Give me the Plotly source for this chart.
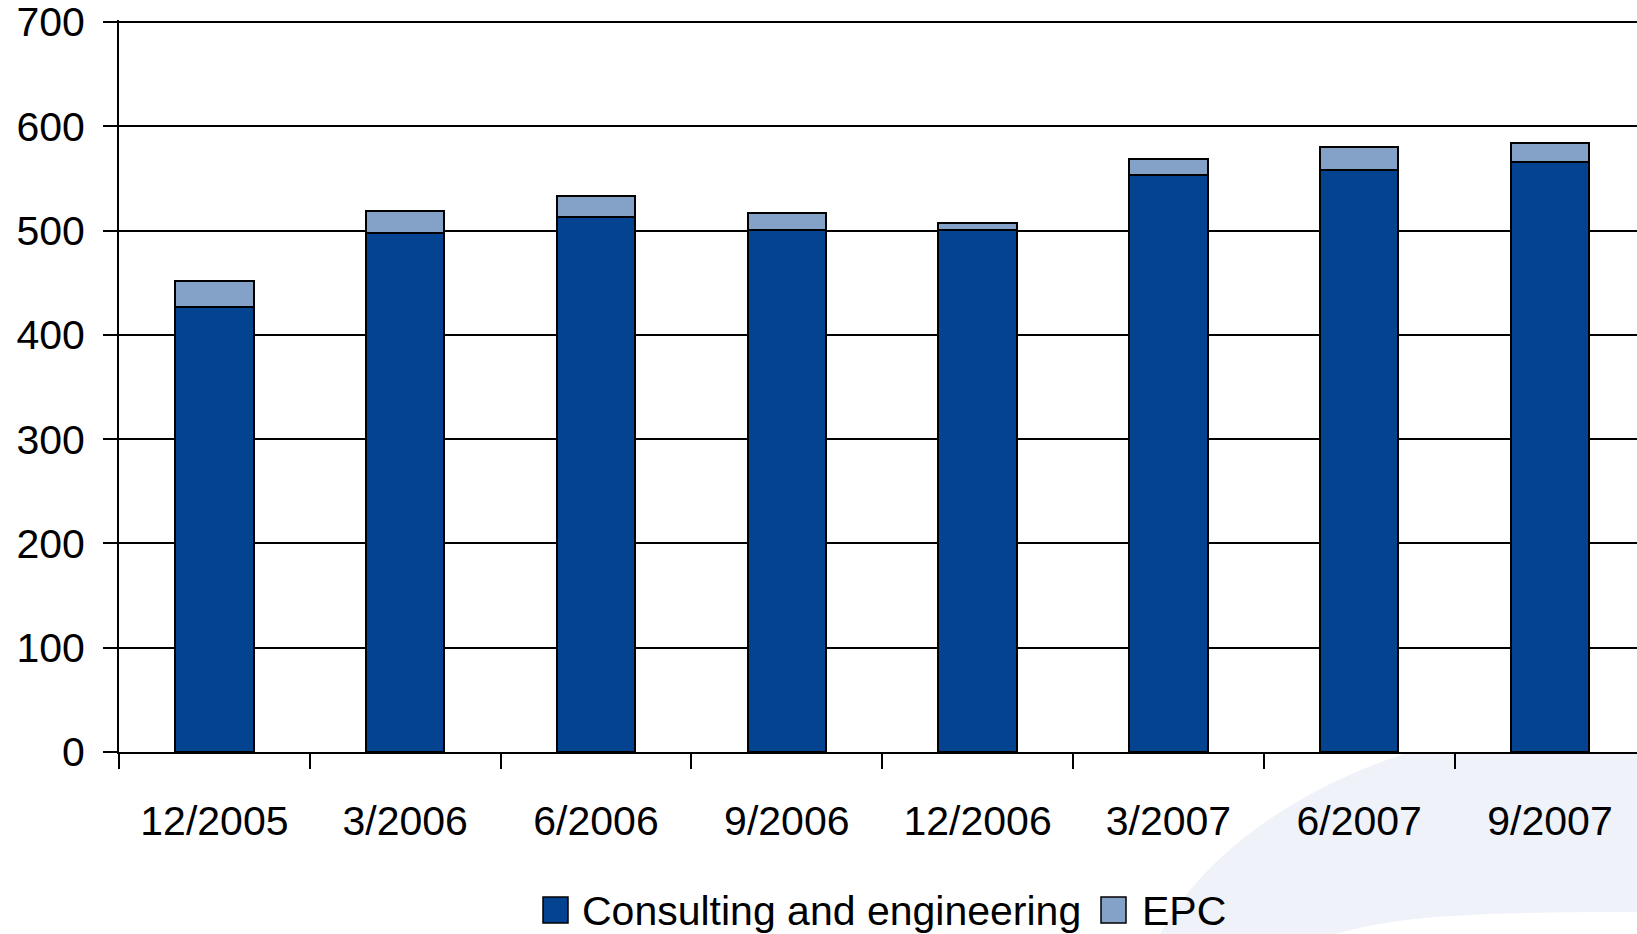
import plotly.graph_objects as go

# ---- data ----
categories = ["12/2005", "3/2006", "6/2006", "9/2006", "12/2006", "3/2007", "6/2007", "9/2007"]
consulting = [427, 498, 513, 501, 501, 553, 558, 566]
epc = [25, 21, 20, 16, 6, 16, 22, 18]
series_names = ["Consulting and engineering", "EPC"]
y_ticks = [0, 100, 200, 300, 400, 500, 600, 700]

# ---- style ----
DARK = "#03438f"
LIGHT = "#84a1c7"
SWOOSH = "#f0f2fa"
FONT = "Liberation Sans, Arial, sans-serif"

W, H = 1637, 934
L, R, T, B = 119, 0, 20, 182
PW, PH = W - L - R, H - T - B

def px(x):
    return (x - L) / PW

def py(y):
    return (H - B - y) / PH

fig = go.Figure()
fig.add_trace(go.Bar(x=categories, y=consulting, name=series_names[0],
                     marker=dict(color=DARK, line=dict(color="black", width=2)),
                     width=0.41, showlegend=False))
fig.add_trace(go.Bar(x=categories, y=epc, name=series_names[1],
                     marker=dict(color=LIGHT, line=dict(color="black", width=2)),
                     width=0.41, showlegend=False))

# background swoosh (below the x axis only)
swoosh = (f"M {px(1160)} {py(934)} "
          f"C {px(1200)} {py(860)}, {px(1290)} {py(790)}, {px(1410)} {py(752)} "
          f"L {px(1637)} {py(752)} L {px(1637)} {py(934)} Z")
dome = (f"M {px(1335)} {py(934)} "
        f"C {px(1400)} {py(915)}, {px(1480)} {py(912)}, {px(1637)} {py(912)} "
        f"L {px(1637)} {py(934)} Z")
shapes = [
    dict(type="path", xref="paper", yref="paper", path=swoosh,
         fillcolor=SWOOSH, line=dict(width=0), layer="below"),
    dict(type="path", xref="paper", yref="paper", path=dome,
         fillcolor="white", line=dict(width=0), layer="below"),
]

# manual legend
leg_y = 910
legend_items = [(543, 580, DARK, series_names[0]), (1101, 1140, LIGHT, series_names[1])]
annotations = []
for sx, tx, col, name in legend_items:
    shapes.append(dict(type="rect", xref="paper", yref="paper",
                       x0=px(sx), x1=px(sx + 25), y0=py(leg_y - 13), y1=py(leg_y + 13),
                       fillcolor=col, line=dict(color="black", width=1.5)))
    annotations.append(dict(xref="paper", yref="paper", x=px(tx), y=py(leg_y + 1),
                            xanchor="left", yanchor="middle", showarrow=False,
                            text=name, font=dict(family=FONT, size=41, color="black")))

fig.update_layout(
    width=W, height=H,
    margin=dict(l=L, r=R, t=T, b=B, pad=0),
    barmode="stack",
    paper_bgcolor="white",
    plot_bgcolor="rgba(0,0,0,0)",
    font=dict(family=FONT, size=41, color="black"),
    shapes=shapes,
    annotations=annotations,
    showlegend=False,
    xaxis=dict(
        type="category",
        range=[-0.5, -0.5 + PW / 190.8],
        showline=True, linecolor="black", linewidth=2,
        ticks="outside", tickson="boundaries", ticklen=15, tickwidth=1.5, tickcolor="black",
        showgrid=False,
        tickfont=dict(family=FONT, size=41, color="black"),
        ticklabelstandoff=32,
        ticklabeloverflow="allow",
    ),
    yaxis=dict(
        range=[0, 702],
        tickvals=y_ticks,
        showline=True, linecolor="black", linewidth=2,
        ticks="outside", ticklen=14, tickwidth=2, tickcolor="black",
        showgrid=True, gridcolor="black", gridwidth=2,
        zeroline=False,
        tickfont=dict(family=FONT, size=41, color="black"),
        ticklabelstandoff=10,
        ticklabeloverflow="allow",
    ),
)

fig.write_html("out.html")
